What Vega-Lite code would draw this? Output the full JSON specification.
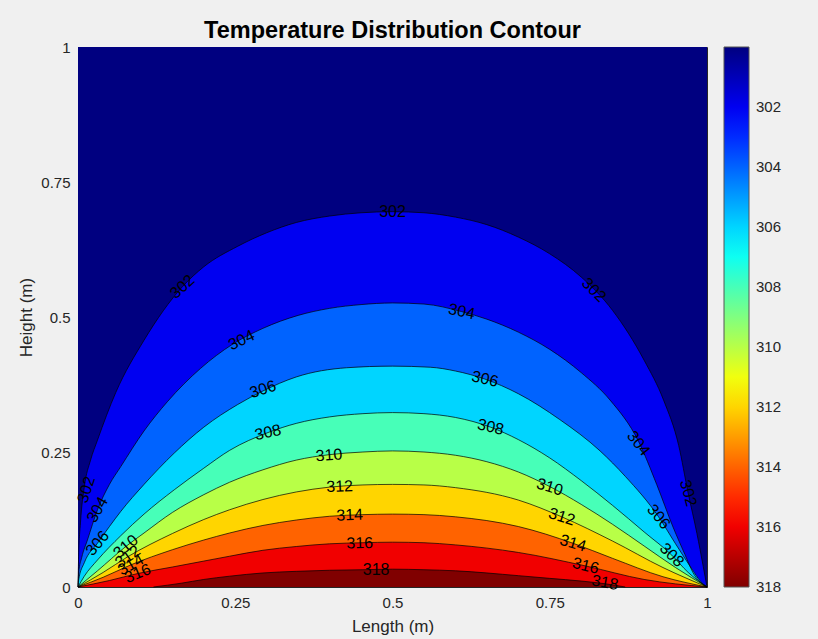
{
  "$schema": "https://vega.github.io/schema/vega-lite/v6.json",
  "width": 629,
  "height": 540,
  "autosize": "none",
  "padding": {"left": 78, "top": 47, "right": 111, "bottom": 52},
  "background": "#F0F0F0",
  "title": {"text": "Temperature Distribution Contour", "font": "Liberation Sans", "fontSize": 23.5, "fontWeight": "bold", "color": "#000000", "anchor": "middle", "frame": "group", "offset": -2},
  "config": {
    "view": {"stroke": "#262626", "strokeWidth": 1},
    "axis": {"labelFont": "Liberation Sans", "titleFont": "Liberation Sans", "labelColor": "#262626", "titleColor": "#262626", "tickColor": "#262626", "grid": false, "domain": false},
    "legend": {"labelFont": "Liberation Sans"}
  },
  "datasets": {
    "curves": [
      {"level": 300, "x": 0, "y": 1}, {"level": 300, "x": 1, "y": 1},
      {"level": 302, "x": 0, "y": 0}, {"level": 302, "x": 0.001, "y": 0.056}, {"level": 302, "x": 0.004, "y": 0.12}, {"level": 302, "x": 0.01, "y": 0.185}, {"level": 302, "x": 0.02, "y": 0.235}, {"level": 302, "x": 0.031, "y": 0.272}, {"level": 302, "x": 0.06, "y": 0.36}, {"level": 302, "x": 0.105, "y": 0.457}, {"level": 302, "x": 0.166, "y": 0.556}, {"level": 302, "x": 0.2, "y": 0.593}, {"level": 302, "x": 0.254, "y": 0.631}, {"level": 302, "x": 0.3, "y": 0.656}, {"level": 302, "x": 0.347, "y": 0.675}, {"level": 302, "x": 0.4, "y": 0.687}, {"level": 302, "x": 0.45, "y": 0.693}, {"level": 302, "x": 0.5, "y": 0.695}, {"level": 302, "x": 0.55, "y": 0.693}, {"level": 302, "x": 0.6, "y": 0.685}, {"level": 302, "x": 0.65, "y": 0.671}, {"level": 302, "x": 0.7, "y": 0.648}, {"level": 302, "x": 0.75, "y": 0.617}, {"level": 302, "x": 0.8, "y": 0.574}, {"level": 302, "x": 0.85, "y": 0.512}, {"level": 302, "x": 0.9, "y": 0.42}, {"level": 302, "x": 0.931, "y": 0.346}, {"level": 302, "x": 0.955, "y": 0.262}, {"level": 302, "x": 0.97, "y": 0.174}, {"level": 302, "x": 0.984, "y": 0.099}, {"level": 302, "x": 0.994, "y": 0.038}, {"level": 302, "x": 1, "y": 0},
      {"level": 304, "x": 0, "y": 0}, {"level": 304, "x": 0.001, "y": 0.026}, {"level": 304, "x": 0.006, "y": 0.055}, {"level": 304, "x": 0.015, "y": 0.087}, {"level": 304, "x": 0.031, "y": 0.143}, {"level": 304, "x": 0.05, "y": 0.19}, {"level": 304, "x": 0.068, "y": 0.223}, {"level": 304, "x": 0.105, "y": 0.289}, {"level": 304, "x": 0.142, "y": 0.343}, {"level": 304, "x": 0.195, "y": 0.405}, {"level": 304, "x": 0.245, "y": 0.449}, {"level": 304, "x": 0.294, "y": 0.479}, {"level": 304, "x": 0.35, "y": 0.503}, {"level": 304, "x": 0.4, "y": 0.516}, {"level": 304, "x": 0.45, "y": 0.523}, {"level": 304, "x": 0.5, "y": 0.526}, {"level": 304, "x": 0.55, "y": 0.524}, {"level": 304, "x": 0.61, "y": 0.51}, {"level": 304, "x": 0.65, "y": 0.496}, {"level": 304, "x": 0.7, "y": 0.472}, {"level": 304, "x": 0.75, "y": 0.44}, {"level": 304, "x": 0.8, "y": 0.397}, {"level": 304, "x": 0.846, "y": 0.346}, {"level": 304, "x": 0.891, "y": 0.27}, {"level": 304, "x": 0.92, "y": 0.19}, {"level": 304, "x": 0.946, "y": 0.111}, {"level": 304, "x": 0.965, "y": 0.06}, {"level": 304, "x": 0.978, "y": 0.026}, {"level": 304, "x": 1, "y": 0},
      {"level": 306, "x": 0, "y": 0}, {"level": 306, "x": 0.001, "y": 0.013}, {"level": 306, "x": 0.01, "y": 0.045}, {"level": 306, "x": 0.031, "y": 0.081}, {"level": 306, "x": 0.05, "y": 0.112}, {"level": 306, "x": 0.068, "y": 0.14}, {"level": 306, "x": 0.105, "y": 0.19}, {"level": 306, "x": 0.153, "y": 0.248}, {"level": 306, "x": 0.2, "y": 0.296}, {"level": 306, "x": 0.254, "y": 0.338}, {"level": 306, "x": 0.294, "y": 0.363}, {"level": 306, "x": 0.347, "y": 0.389}, {"level": 306, "x": 0.427, "y": 0.406}, {"level": 306, "x": 0.5, "y": 0.409}, {"level": 306, "x": 0.56, "y": 0.407}, {"level": 306, "x": 0.6, "y": 0.4}, {"level": 306, "x": 0.647, "y": 0.385}, {"level": 306, "x": 0.7, "y": 0.358}, {"level": 306, "x": 0.766, "y": 0.31}, {"level": 306, "x": 0.83, "y": 0.252}, {"level": 306, "x": 0.87, "y": 0.205}, {"level": 306, "x": 0.923, "y": 0.13}, {"level": 306, "x": 0.95, "y": 0.08}, {"level": 306, "x": 0.975, "y": 0.035}, {"level": 306, "x": 0.99, "y": 0.01}, {"level": 306, "x": 1, "y": 0},
      {"level": 308, "x": 0, "y": 0}, {"level": 308, "x": 0.01, "y": 0.02}, {"level": 308, "x": 0.031, "y": 0.05}, {"level": 308, "x": 0.068, "y": 0.095}, {"level": 308, "x": 0.105, "y": 0.135}, {"level": 308, "x": 0.153, "y": 0.18}, {"level": 308, "x": 0.2, "y": 0.22}, {"level": 308, "x": 0.241, "y": 0.253}, {"level": 308, "x": 0.302, "y": 0.286}, {"level": 308, "x": 0.347, "y": 0.303}, {"level": 308, "x": 0.4, "y": 0.315}, {"level": 308, "x": 0.453, "y": 0.321}, {"level": 308, "x": 0.5, "y": 0.323}, {"level": 308, "x": 0.55, "y": 0.321}, {"level": 308, "x": 0.6, "y": 0.314}, {"level": 308, "x": 0.656, "y": 0.296}, {"level": 308, "x": 0.7, "y": 0.273}, {"level": 308, "x": 0.75, "y": 0.239}, {"level": 308, "x": 0.8, "y": 0.197}, {"level": 308, "x": 0.85, "y": 0.151}, {"level": 308, "x": 0.9, "y": 0.102}, {"level": 308, "x": 0.944, "y": 0.059}, {"level": 308, "x": 0.97, "y": 0.027}, {"level": 308, "x": 1, "y": 0},
      {"level": 310, "x": 0, "y": 0}, {"level": 310, "x": 0.031, "y": 0.03}, {"level": 310, "x": 0.076, "y": 0.075}, {"level": 310, "x": 0.105, "y": 0.1}, {"level": 310, "x": 0.15, "y": 0.138}, {"level": 310, "x": 0.2, "y": 0.171}, {"level": 310, "x": 0.241, "y": 0.194}, {"level": 310, "x": 0.294, "y": 0.217}, {"level": 310, "x": 0.347, "y": 0.235}, {"level": 310, "x": 0.399, "y": 0.245}, {"level": 310, "x": 0.453, "y": 0.25}, {"level": 310, "x": 0.5, "y": 0.252}, {"level": 310, "x": 0.55, "y": 0.25}, {"level": 310, "x": 0.6, "y": 0.244}, {"level": 310, "x": 0.65, "y": 0.232}, {"level": 310, "x": 0.7, "y": 0.213}, {"level": 310, "x": 0.75, "y": 0.186}, {"level": 310, "x": 0.8, "y": 0.153}, {"level": 310, "x": 0.85, "y": 0.116}, {"level": 310, "x": 0.9, "y": 0.076}, {"level": 310, "x": 0.95, "y": 0.036}, {"level": 310, "x": 1, "y": 0},
      {"level": 312, "x": 0, "y": 0}, {"level": 312, "x": 0.04, "y": 0.027}, {"level": 312, "x": 0.079, "y": 0.056}, {"level": 312, "x": 0.15, "y": 0.099}, {"level": 312, "x": 0.2, "y": 0.125}, {"level": 312, "x": 0.241, "y": 0.143}, {"level": 312, "x": 0.294, "y": 0.162}, {"level": 312, "x": 0.347, "y": 0.176}, {"level": 312, "x": 0.4, "y": 0.185}, {"level": 312, "x": 0.453, "y": 0.189}, {"level": 312, "x": 0.5, "y": 0.19}, {"level": 312, "x": 0.55, "y": 0.189}, {"level": 312, "x": 0.6, "y": 0.184}, {"level": 312, "x": 0.7, "y": 0.161}, {"level": 312, "x": 0.769, "y": 0.13}, {"level": 312, "x": 0.85, "y": 0.085}, {"level": 312, "x": 0.93, "y": 0.036}, {"level": 312, "x": 1, "y": 0},
      {"level": 314, "x": 0, "y": 0}, {"level": 314, "x": 0.04, "y": 0.018}, {"level": 314, "x": 0.084, "y": 0.041}, {"level": 314, "x": 0.15, "y": 0.069}, {"level": 314, "x": 0.2, "y": 0.087}, {"level": 314, "x": 0.241, "y": 0.1}, {"level": 314, "x": 0.294, "y": 0.114}, {"level": 314, "x": 0.347, "y": 0.124}, {"level": 314, "x": 0.4, "y": 0.131}, {"level": 314, "x": 0.453, "y": 0.134}, {"level": 314, "x": 0.5, "y": 0.135}, {"level": 314, "x": 0.55, "y": 0.134}, {"level": 314, "x": 0.6, "y": 0.13}, {"level": 314, "x": 0.7, "y": 0.112}, {"level": 314, "x": 0.787, "y": 0.081}, {"level": 314, "x": 0.85, "y": 0.053}, {"level": 314, "x": 0.93, "y": 0.019}, {"level": 314, "x": 1, "y": 0},
      {"level": 316, "x": 0, "y": 0}, {"level": 316, "x": 0.05, "y": 0.012}, {"level": 316, "x": 0.095, "y": 0.025}, {"level": 316, "x": 0.15, "y": 0.037}, {"level": 316, "x": 0.2, "y": 0.048}, {"level": 316, "x": 0.241, "y": 0.057}, {"level": 316, "x": 0.294, "y": 0.068}, {"level": 316, "x": 0.347, "y": 0.075}, {"level": 316, "x": 0.4, "y": 0.08}, {"level": 316, "x": 0.453, "y": 0.082}, {"level": 316, "x": 0.5, "y": 0.083}, {"level": 316, "x": 0.55, "y": 0.082}, {"level": 316, "x": 0.6, "y": 0.078}, {"level": 316, "x": 0.7, "y": 0.064}, {"level": 316, "x": 0.807, "y": 0.039}, {"level": 316, "x": 0.9, "y": 0.014}, {"level": 316, "x": 1, "y": 0},
      {"level": 318, "x": 0.12, "y": 0}, {"level": 318, "x": 0.164, "y": 0.007}, {"level": 318, "x": 0.2, "y": 0.014}, {"level": 318, "x": 0.241, "y": 0.02}, {"level": 318, "x": 0.294, "y": 0.026}, {"level": 318, "x": 0.347, "y": 0.029}, {"level": 318, "x": 0.4, "y": 0.031}, {"level": 318, "x": 0.453, "y": 0.032}, {"level": 318, "x": 0.5, "y": 0.033}, {"level": 318, "x": 0.55, "y": 0.032}, {"level": 318, "x": 0.6, "y": 0.03}, {"level": 318, "x": 0.7, "y": 0.021}, {"level": 318, "x": 0.75, "y": 0.016}, {"level": 318, "x": 0.8, "y": 0.011}, {"level": 318, "x": 0.838, "y": 0.006}, {"level": 318, "x": 0.87, "y": 0}
    ],
    "labels": [
      {"t": "302", "x": 0.5, "y": 0.694, "rot": 0},
      {"t": "302", "x": 0.166, "y": 0.556, "rot": -42},
      {"t": "302", "x": 0.82, "y": 0.55, "rot": 45},
      {"t": "302", "x": 0.0135, "y": 0.18, "rot": -72},
      {"t": "302", "x": 0.97, "y": 0.174, "rot": 75},
      {"t": "304", "x": 0.26, "y": 0.457, "rot": -25},
      {"t": "304", "x": 0.61, "y": 0.51, "rot": 12},
      {"t": "304", "x": 0.891, "y": 0.266, "rot": 52},
      {"t": "304", "x": 0.031, "y": 0.143, "rot": -60},
      {"t": "306", "x": 0.294, "y": 0.366, "rot": -18},
      {"t": "306", "x": 0.647, "y": 0.385, "rot": 13},
      {"t": "306", "x": 0.923, "y": 0.13, "rot": 50},
      {"t": "306", "x": 0.031, "y": 0.081, "rot": -50},
      {"t": "308", "x": 0.302, "y": 0.286, "rot": -12},
      {"t": "308", "x": 0.656, "y": 0.296, "rot": 13},
      {"t": "308", "x": 0.944, "y": 0.059, "rot": 45},
      {"t": "310", "x": 0.399, "y": 0.244, "rot": -4},
      {"t": "310", "x": 0.75, "y": 0.185, "rot": 17},
      {"t": "310", "x": 0.076, "y": 0.075, "rot": -40},
      {"t": "312", "x": 0.416, "y": 0.186, "rot": -2},
      {"t": "312", "x": 0.769, "y": 0.13, "rot": 18},
      {"t": "312", "x": 0.079, "y": 0.056, "rot": -35},
      {"t": "314", "x": 0.432, "y": 0.133, "rot": -2},
      {"t": "314", "x": 0.787, "y": 0.081, "rot": 17},
      {"t": "314", "x": 0.084, "y": 0.041, "rot": -30},
      {"t": "316", "x": 0.448, "y": 0.081, "rot": -1},
      {"t": "316", "x": 0.807, "y": 0.039, "rot": 14},
      {"t": "316", "x": 0.095, "y": 0.025, "rot": -22},
      {"t": "318", "x": 0.474, "y": 0.031, "rot": 0},
      {"t": "318", "x": 0.838, "y": 0.008, "rot": 10}
    ]
  },
  "layer": [
    {
      "data": {"name": "curves"},
      "mark": {"type": "area", "interpolate": "monotone"},
      "encoding": {
        "x": {"field": "x", "type": "quantitative", "scale": {"domain": [0, 1], "nice": false, "zero": false},
              "axis": {"values": [0, 0.25, 0.5, 0.75, 1], "format": ".2~f", "labelFontSize": 15, "tickSize": -5, "labelPadding": 13, "labelFlush": false, "title": "Length (m)", "titleFontSize": 17, "titleFontWeight": "normal", "titlePadding": 8}},
        "y": {"field": "y", "type": "quantitative", "stack": null, "scale": {"domain": [0, 1], "nice": false, "zero": false},
              "axis": {"values": [0, 0.25, 0.5, 0.75, 1], "format": ".2~f", "labelFontSize": 15, "tickSize": -5, "labelPadding": 13, "labelFlush": false, "title": "Height (m)", "titleFontSize": 17, "titleFontWeight": "normal", "titlePadding": 5}},
        "color": {"field": "level", "type": "quantitative",
                  "scale": {"type": "linear", "domain": [318, 315.75, 311.25, 306.75, 302.25, 300], "range": ["#800000", "#ff0000", "#ffff00", "#00ffff", "#0000ff", "#000080"], "interpolate": "rgb"},
                  "legend": {"orient": "none", "legendX": 646, "legendY": 0, "direction": "vertical", "title": null, "gradientLength": 540, "gradientThickness": 25, "values": [302, 304, 306, 308, 310, 312, 314, 316, 318], "labelFontSize": 15, "labelColor": "#262626", "labelOffset": 7, "labelBaseline": "middle", "gradientStrokeColor": "#555555", "gradientStrokeWidth": 1, "padding": 0,
                             "encode": {"labels": {"update": {"baseline": {"value": "middle"}}}}}},
        "detail": {"field": "level"}
      }
    },
    {
      "data": {"name": "curves"},
      "transform": [{"filter": "datum.level > 300"}],
      "mark": {"type": "line", "interpolate": "monotone", "color": "#000000", "strokeWidth": 0.7},
      "encoding": {
        "x": {"field": "x", "type": "quantitative"},
        "y": {"field": "y", "type": "quantitative"},
        "detail": {"field": "level"}
      }
    },
    {
      "data": {"name": "labels"},
      "mark": {"type": "text", "font": "Liberation Sans", "fontSize": 16, "color": "#000000", "align": "center", "baseline": "middle"},
      "encoding": {
        "x": {"field": "x", "type": "quantitative"},
        "y": {"field": "y", "type": "quantitative"},
        "text": {"field": "t"},
        "angle": {"field": "rot", "type": "quantitative", "scale": null}
      }
    }
  ]
}
